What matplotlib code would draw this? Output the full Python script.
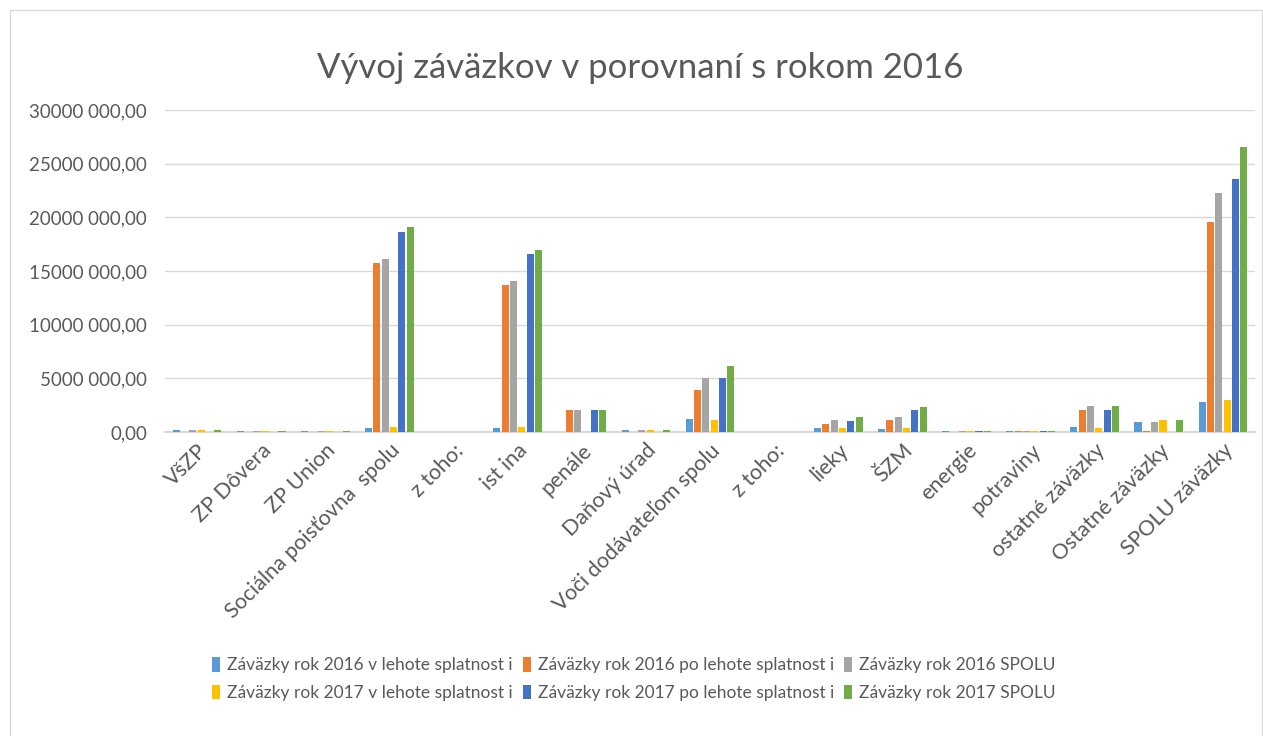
import numpy as np
import matplotlib
matplotlib.use('Agg')
from matplotlib import pyplot as plt
from matplotlib.patches import Rectangle
from matplotlib.ticker import FuncFormatter, MultipleLocator

plt.rcParams['font.family'] = ['Lato', 'DejaVu Sans']

categories = ['VšZP', 'ZP Dôvera', 'ZP Union', 'Sociálna poisťovna  spolu', 'z toho:',
              'ist ina', 'penále', 'Daňový úrad', 'Voči dodávateľom spolu', 'z toho:',
              'lieky', 'ŠZM', 'energie', 'potraviny', 'ostatné záväzky',
              'Ostatné záväzky', 'SPOLU záväzky']

# values in EUR
z2016_v_lehote = [150000, 50000, 50000, 400000, 0, 350000, 0, 150000, 1200000, 0,
                  350000, 250000, 50000, 50000, 450000, 950000, 2800000]
z2016_po_lehote = [0, 20000, 20000, 15750000, 0, 13700000, 2050000, 0, 3900000, 0,
                   750000, 1100000, 20000, 50000, 2050000, 50000, 19600000]
z2016_spolu = [150000, 50000, 50000, 16100000, 0, 14100000, 2050000, 150000, 5000000, 0,
               1100000, 1400000, 50000, 50000, 2400000, 950000, 22300000]
z2017_v_lehote = [150000, 50000, 50000, 450000, 0, 450000, 0, 150000, 1100000, 0,
                  350000, 350000, 50000, 50000, 350000, 1100000, 3000000]
z2017_po_lehote = [0, 20000, 20000, 18600000, 0, 16600000, 2050000, 0, 5000000, 0,
                   1000000, 2050000, 50000, 50000, 2050000, 0, 23600000]
z2017_spolu = [150000, 50000, 50000, 19100000, 0, 17000000, 2050000, 150000, 6150000, 0,
               1400000, 2330000, 50000, 50000, 2400000, 1100000, 26550000]

series = [z2016_v_lehote, z2016_po_lehote, z2016_spolu, z2017_v_lehote, z2017_po_lehote, z2017_spolu]
labels = ['Záväzky rok 2016 v lehote splatnost i', 'Záväzky rok 2016 po lehote splatnost i',
          'Záväzky rok 2016 SPOLU', 'Záväzky rok 2017 v lehote splatnost i',
          'Záväzky rok 2017 po lehote splatnost i', 'Záväzky rok 2017 SPOLU']
colors = ['#5B9BD5', '#ED7D31', '#A5A5A5', '#FFC000', '#4472C4', '#70AD47']

W, H = 1263, 736
fig = plt.figure(figsize=(W / 100, H / 100), dpi=100)
fig.patches.append(Rectangle((10 / W, -0.01), (1262 - 10) / W, (H - 10) / H + 0.01,
                             transform=fig.transFigure, fill=False, ec='#d9d9d9', lw=1))

ax = fig.add_axes([165 / W, (H - 432) / H, (1255 - 165) / W, (432 - 110) / H])
x = np.arange(len(categories))
step = 0.13
bw = 0.11
bars = []
for i, (vals, lab, c) in enumerate(zip(series, labels, colors)):
    bars.append(ax.bar(x + (i - 2.5) * step, vals, bw, color=c, label=lab, zorder=3))

ax.set_xlim(-0.5, len(categories) - 0.5)
ax.set_ylim(0, 30000000)
ax.yaxis.set_major_locator(MultipleLocator(5000000))


def fmt(v, pos):
    v = int(round(v))
    if v == 0:
        return '0,00'
    return f'{v // 1000} {v % 1000:03d},00'


ax.yaxis.set_major_formatter(FuncFormatter(fmt))
ax.grid(axis='y', color='#d9d9d9', lw=1, zorder=0)
for s in ['top', 'right', 'left']:
    ax.spines[s].set_visible(False)
ax.spines['bottom'].set_color('#d9d9d9')
ax.spines['bottom'].set_linewidth(1.5)
ax.tick_params(axis='both', length=0, colors='#595959')
ax.tick_params(axis='y', pad=13, labelsize=13.5)
ax.set_xticks(x)
ax.set_xticklabels(categories, rotation=45, ha='right', rotation_mode='anchor', fontsize=15.5)
ax.tick_params(axis='x', pad=6)

fig.text(640 / W, 1 - 68 / H, 'Vývoj záväzkov v porovnaní s rokom 2016', ha='center', va='center',
         fontsize=25, color='#595959')

# row-major order for the 2x3 legend
order = [0, 3, 1, 4, 2, 5]
leg = fig.legend([bars[k] for k in order], [labels[k] for k in order],
                 loc='center', bbox_to_anchor=(634 / W, 1 - 679 / H), ncol=3, frameon=False,
                 fontsize=12.5, handlelength=0.45, handleheight=0.9, handletextpad=0.4,
                 columnspacing=0.6, labelspacing=0.65)
for t in leg.get_texts():
    t.set_color('#595959')

fig.savefig('out.png', dpi=100)
